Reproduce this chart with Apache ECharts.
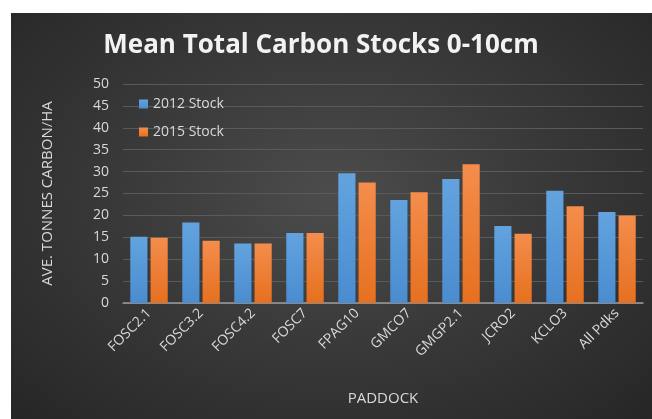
<!DOCTYPE html>
<html>
<head>
<meta charset="utf-8">
<script src="https://cdn.jsdelivr.net/npm/echarts@6/dist/echarts.min.js"></script>
<style>
    html, body { margin: 0; padding: 0; background: #fff; }
    #main {
        position: absolute; left: 11px; top: 13px; width: 641px; height: 406px;
        background: radial-gradient(ellipse at 50% 45%, #4c4c4c 0%, #3a3a3a 45%, #262626 100%);
    }
</style>
</head>
<body>
<div id="main"></div>
<script>
// 类别
const paddocks = ['FOSC2.1', 'FOSC3.2', 'FOSC4.2', 'FOSC7', 'FPAG10', 'GMCO7', 'GMGP2.1', 'JCRO2', 'KCLO3', 'All Pdks'];

// 数值
const stock2012 = [15.1, 18.4, 13.6, 16.0, 29.6, 23.5, 28.3, 17.6, 25.6, 20.8];
const stock2015 = [14.9, 14.2, 13.6, 16.0, 27.5, 25.3, 31.7, 15.8, 22.1, 20.0];

const textColor = '#d9d9d9';

// 柱子渐变
function grad(top, bottom) {
    return new echarts.graphic.LinearGradient(0, 0, 0, 1, [
        { offset: 0, color: top },
        { offset: 1, color: bottom }
    ]);
}

const myChart = echarts.init(document.getElementById('main'));

const option = {
    backgroundColor: 'transparent',
    color: ['#5b9bd5', '#ed7d31'],
    title: {
        text: 'Mean Total Carbon Stocks 0-10cm',
        left: 305,
        textAlign: 'center',
        top: 15,
        textStyle: {
            color: '#f2f2f2',
            fontFamily: 'Open Sans',
            fontWeight: 'bold',
            fontSize: 26
        }
    },
    legend: {
        orient: 'vertical',
        left: 123,
        top: 79,
        itemWidth: 9,
        itemHeight: 9,
        itemGap: 14,
        icon: 'rect',
        textStyle: { color: textColor, fontSize: 14, fontFamily: 'Open Sans' },
        data: ['2012 Stock', '2015 Stock']
    },
    grid: {
        left: 112,
        right: 9,
        top: 71,
        bottom: 116
    },
    xAxis: {
        type: 'category',
        data: paddocks,
        name: 'PADDOCK',
        nameLocation: 'middle',
        nameGap: 88,
        nameTextStyle: { color: textColor, fontSize: 15, fontFamily: 'Open Sans' },
        axisLine: { lineStyle: { color: '#9a9a9a', width: 1.5 } },
        axisTick: { show: false },
        axisLabel: {
            rotate: 45,
            color: textColor,
            fontSize: 14,
            fontFamily: 'Open Sans',
            margin: 8
        }
    },
    yAxis: {
        type: 'value',
        min: 0,
        max: 50,
        interval: 5,
        name: 'AVE. TONNES CARBON/HA',
        nameLocation: 'middle',
        nameGap: 68,
        nameTextStyle: { color: textColor, fontSize: 15, fontFamily: 'Open Sans' },
        axisLine: { show: false },
        axisTick: { show: false },
        axisLabel: { color: textColor, fontSize: 14, fontFamily: 'Open Sans', margin: 14 },
        splitLine: { lineStyle: { color: '#5a5a5a', width: 1 } }
    },
    series: [
        {
            name: '2012 Stock',
            type: 'bar',
            data: stock2012,
            barGap: '18%',
            barCategoryGap: '28%',
            itemStyle: {
                color: grad('#62a3df', '#4a8ccf'),
                shadowColor: 'rgba(0,0,0,0.45)',
                shadowBlur: 4,
                shadowOffsetX: 1
            }
        },
        {
            name: '2015 Stock',
            type: 'bar',
            data: stock2015,
            itemStyle: {
                color: grad('#f48d4c', '#e6701f'),
                shadowColor: 'rgba(0,0,0,0.45)',
                shadowBlur: 4,
                shadowOffsetX: 1
            }
        }
    ]
};

myChart.setOption(option);
</script>
</body>
</html>
